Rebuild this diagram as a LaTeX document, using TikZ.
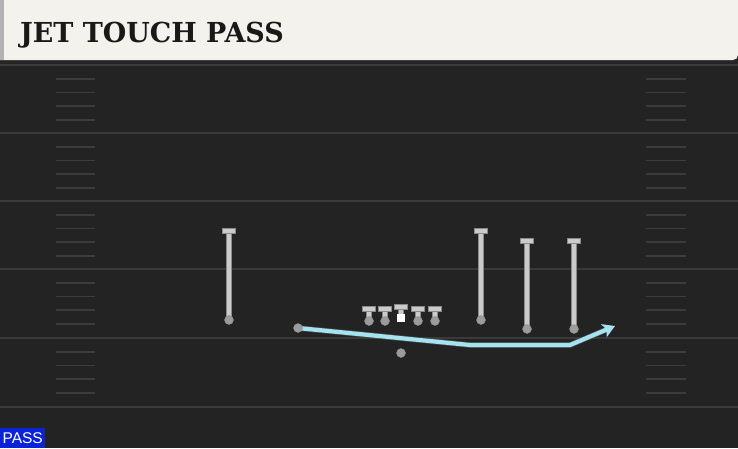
\documentclass[tikz,border=0pt]{standalone}
\usepackage{fontspec}
\newfontfamily\headfont{DejaVu Serif}
\newfontfamily\labfont{Liberation Sans}
\usetikzlibrary{arrows.meta,calc}
\definecolor{bg}{HTML}{232323}
\definecolor{yard}{HTML}{3A3A3A}
\definecolor{hash}{HTML}{3C3C3C}
\definecolor{head}{HTML}{F4F2EC}
\definecolor{route}{HTML}{CBCBCB}
\definecolor{routeedge}{HTML}{8A8A8A}
\definecolor{dotc}{HTML}{9C9C9C}
\definecolor{jet}{HTML}{A6E3F0}
\definecolor{passblue}{HTML}{0A22D8}
\tikzset{
  yardline/.style={yard, line width=2pt},
  hashmark/.style={hash, line width=1.8pt},
  player/.style={circle, fill=dotc, draw=routeedge, line width=0.4pt, inner sep=0pt, minimum size=9pt},
  centerbox/.style={rectangle, fill=white, inner sep=0pt, minimum width=8pt, minimum height=8pt},
  routeout/.style={routeedge, line width=6pt},
  routein/.style={route, line width=4.2pt},
  tbar/.style={fill=route, draw=routeedge, line width=0.6pt},
  jetroute/.style={jet, line width=4.2pt, -{Stealth[length=12pt, width=14pt, inset=3pt]}},
}
\begin{document}
\begin{tikzpicture}[x=1pt, y=-1pt]
\useasboundingbox (0,0) rectangle (738,448);
\fill[bg] (0,0) rectangle (738,448);
% yard lines
\foreach \yy in {65,133,201,269,338,407} {
  \draw[yardline] (0,\yy) -- (738,\yy);
}
% hash marks
\foreach \base in {65,133,201,269,338} {
  \foreach \k in {1,2,3,4} {
    \draw[hashmark] (56,\base+13.7*\k) -- (95,\base+13.7*\k);
    \draw[hashmark] (646,\base+13.7*\k) -- (686,\base+13.7*\k);
  }
}
% header
\fill[black!85] (0,58) rectangle (738,63);
\fill[head] (0,0) -- (738,0) -- (738,55) to[out=-90,in=0] (733,60) -- (0,60) -- cycle;
\fill[black!30] (0,0) rectangle (4,60);
\node[anchor=base west, inner sep=0pt, font=\headfont\bfseries\fontsize{27.5}{27.5}\selectfont, text=black!90] (title) at (20,42) {\scalebox{0.98}[1]{JET TOUCH PASS}};
% PASS label
\node[anchor=south west, fill=passblue, text=white, inner sep=0pt, minimum width=45pt, minimum height=20pt, font=\labfont\fontsize{15.5}{15.5}\selectfont] (passlabel) at (0,448) {PASS};
% route ends
\coordinate (e1) at (229,231);
\coordinate (e2) at (481,231);
\coordinate (e3) at (527,241);
\coordinate (e4) at (574,241);
% players
\coordinate (p1) at (229,320);
\coordinate (p2) at (481,320);
\coordinate (p3) at (527,329);
\coordinate (p4) at (574,329);
\foreach \i in {1,2,3,4} {
  \draw[routeout] (p\i) -- (e\i);
  \draw[routein] (p\i) -- (e\i);
  \fill[tbar] ($(e\i)+(-6.5,-2.5)$) rectangle ($(e\i)+(6.5,2.5)$);
}
% line
\foreach \n/\xx in {l1/369,l2/385,l4/418,l5/435} {
  \coordinate (\n t) at (\xx,309);
  \coordinate (\n b) at (\xx,321);
  \draw[routeout] (\n b) -- (\n t);
  \draw[routein] (\n b) -- (\n t);
  \fill[tbar] ($(\n t)+(-6.5,-2.5)$) rectangle ($(\n t)+(6.5,2.5)$);
  \node[player] (\n) at (\n b) {};
}
\coordinate (ct) at (401,307);
\coordinate (cb) at (401,317);
\draw[routeout] (cb) -- (ct);
\draw[routein] (cb) -- (ct);
\fill[tbar] ($(ct)+(-6.5,-2.5)$) rectangle ($(ct)+(6.5,2.5)$);
\node[centerbox] (center) at (401,318) {};
\foreach \i in {1,2,3,4} { \node[player] (r\i) at (p\i) {}; }
% QB
\node[player] (qb) at (401,353) {};
% jet motion
\coordinate (j1) at (470,345);
\coordinate (j2) at (570,345);
\coordinate (jend) at (615,326);
\draw[black!70, line width=5.5pt] (298,328) -- (j1) -- (j2) -- ($(jend)!10pt!(j2)$);
\draw[jetroute] (298,328) -- (j1) -- (j2) -- (jend);
\node[player] (jetman) at (298,328) {};
\end{tikzpicture}
\end{document}
